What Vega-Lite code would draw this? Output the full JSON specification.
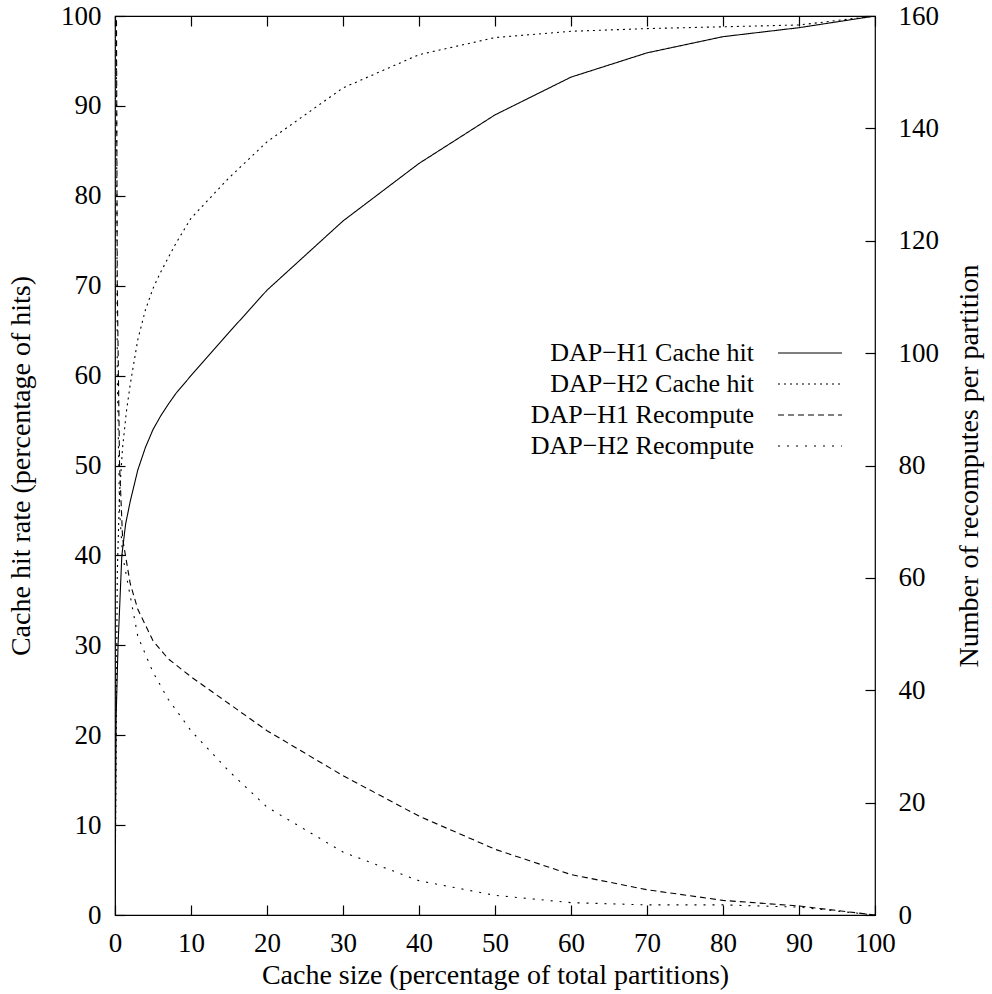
{
  "$schema": "https://vega.github.io/schema/vega-lite/v6.json",
  "width": 760,
  "height": 899,
  "autosize": {"type": "none"},
  "padding": {"left": 115, "top": 16, "right": 117, "bottom": 79},
  "background": "white",
  "config": {
    "view": {"stroke": "black", "strokeWidth": 1.2},
    "font": "Liberation Serif",
    "axis": {
      "labelFont": "Liberation Serif",
      "titleFont": "Liberation Serif",
      "labelFontSize": 27,
      "titleFontSize": 28,
      "titleFontWeight": "normal",
      "labelColor": "black",
      "titleColor": "black",
      "domain": false,
      "tickColor": "black",
      "tickWidth": 1.2,
      "grid": false,
      "tickSize": 10,
      "offset": -10,
      "labelFlush": false,
      "labelOverlap": false
    },
    "legend": {"labelFont": "Liberation Serif", "labelFontSize": 26, "labelColor": "black"}
  },
  "data": {
    "values": [
      {"series": "DAP−H1 Cache hit", "x": 0, "value": 0},
      {"series": "DAP−H1 Cache hit", "x": 0.15, "value": 22},
      {"series": "DAP−H1 Cache hit", "x": 0.4, "value": 30},
      {"series": "DAP−H1 Cache hit", "x": 0.9, "value": 40},
      {"series": "DAP−H1 Cache hit", "x": 1.4, "value": 43.5},
      {"series": "DAP−H1 Cache hit", "x": 2, "value": 46},
      {"series": "DAP−H1 Cache hit", "x": 3, "value": 49.5},
      {"series": "DAP−H1 Cache hit", "x": 4, "value": 52},
      {"series": "DAP−H1 Cache hit", "x": 5, "value": 54},
      {"series": "DAP−H1 Cache hit", "x": 6, "value": 55.5},
      {"series": "DAP−H1 Cache hit", "x": 7, "value": 56.8},
      {"series": "DAP−H1 Cache hit", "x": 8, "value": 58},
      {"series": "DAP−H1 Cache hit", "x": 9, "value": 59},
      {"series": "DAP−H1 Cache hit", "x": 10, "value": 60},
      {"series": "DAP−H1 Cache hit", "x": 15, "value": 64.8},
      {"series": "DAP−H1 Cache hit", "x": 20, "value": 69.5},
      {"series": "DAP−H1 Cache hit", "x": 30, "value": 77.2},
      {"series": "DAP−H1 Cache hit", "x": 40, "value": 83.6},
      {"series": "DAP−H1 Cache hit", "x": 50, "value": 89},
      {"series": "DAP−H1 Cache hit", "x": 60, "value": 93.2},
      {"series": "DAP−H1 Cache hit", "x": 70, "value": 95.9},
      {"series": "DAP−H1 Cache hit", "x": 80, "value": 97.7},
      {"series": "DAP−H1 Cache hit", "x": 90, "value": 98.7},
      {"series": "DAP−H1 Cache hit", "x": 100, "value": 100},

      {"series": "DAP−H2 Cache hit", "x": 0, "value": 0},
      {"series": "DAP−H2 Cache hit", "x": 0.3, "value": 38},
      {"series": "DAP−H2 Cache hit", "x": 0.6, "value": 47},
      {"series": "DAP−H2 Cache hit", "x": 1, "value": 52},
      {"series": "DAP−H2 Cache hit", "x": 1.5, "value": 56},
      {"series": "DAP−H2 Cache hit", "x": 2, "value": 59},
      {"series": "DAP−H2 Cache hit", "x": 3, "value": 64},
      {"series": "DAP−H2 Cache hit", "x": 4, "value": 67.3},
      {"series": "DAP−H2 Cache hit", "x": 5, "value": 69.7},
      {"series": "DAP−H2 Cache hit", "x": 6, "value": 71.5},
      {"series": "DAP−H2 Cache hit", "x": 8, "value": 74.7},
      {"series": "DAP−H2 Cache hit", "x": 10, "value": 77.5},
      {"series": "DAP−H2 Cache hit", "x": 15, "value": 82},
      {"series": "DAP−H2 Cache hit", "x": 20, "value": 86},
      {"series": "DAP−H2 Cache hit", "x": 30, "value": 92},
      {"series": "DAP−H2 Cache hit", "x": 40, "value": 95.7},
      {"series": "DAP−H2 Cache hit", "x": 50, "value": 97.6},
      {"series": "DAP−H2 Cache hit", "x": 60, "value": 98.3},
      {"series": "DAP−H2 Cache hit", "x": 70, "value": 98.6},
      {"series": "DAP−H2 Cache hit", "x": 80, "value": 98.8},
      {"series": "DAP−H2 Cache hit", "x": 90, "value": 99},
      {"series": "DAP−H2 Cache hit", "x": 100, "value": 100},

      {"series": "DAP−H1 Recompute", "x": 0, "value": 250},
      {"series": "DAP−H1 Recompute", "x": 0.3, "value": 112},
      {"series": "DAP−H1 Recompute", "x": 0.6, "value": 80},
      {"series": "DAP−H1 Recompute", "x": 1, "value": 67},
      {"series": "DAP−H1 Recompute", "x": 2, "value": 59},
      {"series": "DAP−H1 Recompute", "x": 3, "value": 54.4},
      {"series": "DAP−H1 Recompute", "x": 5, "value": 48.8},
      {"series": "DAP−H1 Recompute", "x": 7, "value": 45.6},
      {"series": "DAP−H1 Recompute", "x": 10, "value": 42.4},
      {"series": "DAP−H1 Recompute", "x": 15, "value": 37.6},
      {"series": "DAP−H1 Recompute", "x": 20, "value": 32.8},
      {"series": "DAP−H1 Recompute", "x": 30, "value": 24.8},
      {"series": "DAP−H1 Recompute", "x": 40, "value": 17.6},
      {"series": "DAP−H1 Recompute", "x": 50, "value": 11.7},
      {"series": "DAP−H1 Recompute", "x": 60, "value": 7.2},
      {"series": "DAP−H1 Recompute", "x": 70, "value": 4.5},
      {"series": "DAP−H1 Recompute", "x": 80, "value": 2.6},
      {"series": "DAP−H1 Recompute", "x": 90, "value": 1.6},
      {"series": "DAP−H1 Recompute", "x": 100, "value": 0},

      {"series": "DAP−H2 Recompute", "x": 0, "value": 250},
      {"series": "DAP−H2 Recompute", "x": 0.3, "value": 96},
      {"series": "DAP−H2 Recompute", "x": 0.6, "value": 72},
      {"series": "DAP−H2 Recompute", "x": 1, "value": 64},
      {"series": "DAP−H2 Recompute", "x": 2, "value": 56.8},
      {"series": "DAP−H2 Recompute", "x": 3, "value": 49.6},
      {"series": "DAP−H2 Recompute", "x": 5, "value": 43.2},
      {"series": "DAP−H2 Recompute", "x": 7, "value": 38.4},
      {"series": "DAP−H2 Recompute", "x": 10, "value": 32.8},
      {"series": "DAP−H2 Recompute", "x": 15, "value": 25.6},
      {"series": "DAP−H2 Recompute", "x": 20, "value": 19.2},
      {"series": "DAP−H2 Recompute", "x": 30, "value": 11.2},
      {"series": "DAP−H2 Recompute", "x": 40, "value": 6.1},
      {"series": "DAP−H2 Recompute", "x": 50, "value": 3.5},
      {"series": "DAP−H2 Recompute", "x": 60, "value": 2.2},
      {"series": "DAP−H2 Recompute", "x": 70, "value": 1.8},
      {"series": "DAP−H2 Recompute", "x": 80, "value": 1.8},
      {"series": "DAP−H2 Recompute", "x": 90, "value": 1.4},
      {"series": "DAP−H2 Recompute", "x": 100, "value": 0}
    ]
  },
  "layer": [
    {
      "transform": [{"filter": "indexof(datum.series, 'Cache hit') >= 0"}],
      "mark": {"type": "line", "clip": true, "color": "black", "strokeWidth": 1.1},
      "encoding": {
        "x": {
          "field": "x", "type": "quantitative",
          "scale": {"domain": [0, 100], "nice": false, "zero": false},
          "axis": {"orient": "bottom", "values": [0,10,20,30,40,50,60,70,80,90,100], "labelPadding": 15, "title": "Cache size (percentage of total partitions)", "titlePadding": 5}
        },
        "y": {
          "field": "value", "type": "quantitative",
          "scale": {"domain": [0, 100], "nice": false},
          "axis": {"orient": "left", "values": [0,10,20,30,40,50,60,70,80,90,100], "labelPadding": 14, "title": "Cache hit rate (percentage of hits)", "titlePadding": 25}
        },
        "strokeDash": {
          "field": "series", "type": "nominal",
          "scale": {
            "domain": ["DAP−H1 Cache hit", "DAP−H2 Cache hit", "DAP−H1 Recompute", "DAP−H2 Recompute"],
            "range": [[1, 0], [2, 4], [6, 4], [2, 7]]
          },
          "legend": {
            "title": null,
            "orient": "none",
            "legendX": 682,
            "legendY": 324,
            "symbolType": "M-4,0H4",
            "symbolSize": 256,
            "symbolStrokeColor": "black",
            "symbolStrokeWidth": 1.1,
            "labelAlign": "right",
            "labelOffset": -69,
            "labelLimit": 500,
            "rowPadding": 5
          }
        }
      }
    },
    {
      "transform": [{"filter": "indexof(datum.series, 'Recompute') >= 0"}],
      "mark": {"type": "line", "clip": true, "color": "black", "strokeWidth": 1.1},
      "encoding": {
        "x": {
          "field": "x", "type": "quantitative",
          "scale": {"domain": [0, 100], "nice": false, "zero": false},
          "axis": {"orient": "top", "values": [0,10,20,30,40,50,60,70,80,90,100], "labels": false, "title": null}
        },
        "y": {
          "field": "value", "type": "quantitative",
          "scale": {"domain": [0, 160], "nice": false},
          "axis": {"orient": "right", "values": [0,20,40,60,80,100,120,140,160], "labelPadding": 23, "title": "Number of recomputes per partition", "titleAngle": 270, "titlePadding": 45}
        },
        "strokeDash": {"field": "series", "type": "nominal"}
      }
    }
  ],
  "resolve": {"scale": {"y": "independent"}}
}
